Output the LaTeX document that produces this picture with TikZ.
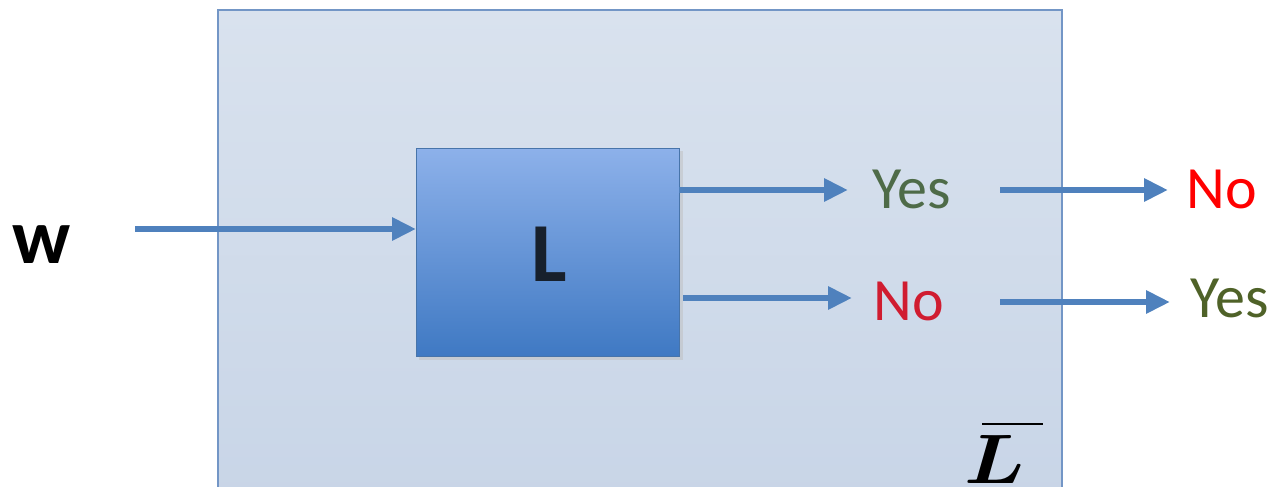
\documentclass[tikz,border=0pt]{standalone}
\usepackage{bm}
\usepackage{fontspec}
\setmainfont{Carlito}
\usetikzlibrary{arrows.meta}
\definecolor{arrowblue}{HTML}{4F81BD}
\definecolor{outerfillT}{HTML}{D9E2EE}
\definecolor{outerfillB}{HTML}{C8D5E7}
\definecolor{outerline}{HTML}{7396C6}
\definecolor{boxT}{HTML}{8DB1EA}
\definecolor{boxB}{HTML}{3F79C3}
\definecolor{lettercol}{HTML}{17202C}
\definecolor{yesin}{HTML}{4E6B48}
\definecolor{noin}{HTML}{D01C30}
\definecolor{yesout}{HTML}{4F6228}
\definecolor{noout}{HTML}{FF0000}
\tikzset{
  flow/.style={draw=arrowblue, line width=6pt,
    -{Triangle[length=24pt,width=22pt]}},
  answer/.style={font=\fontsize{60}{60}\selectfont, inner sep=0pt, anchor=base},
}
\begin{document}
\begin{tikzpicture}[x=1pt,y=-1pt]
  \useasboundingbox (0,0) rectangle (1278,487);
  % outer machine for the complement
  \shade[top color=outerfillT, bottom color=outerfillB, draw=outerline, line width=1.5pt]
    (218,10) rectangle (1062,500);
  % inner decider box with a soft shadow
  \fill[black!25, opacity=0.5] (419,151) rectangle (683,360);
  \shade[top color=boxT, bottom color=boxB] (416,148) rectangle (679,356);
  \draw[arrowblue!90!black, line width=1pt] (416,148) rectangle (679,356);
  \node[font=\fontsize{84}{84}\bfseries\selectfont, text=lettercol, anchor=base] (L) at (549,281) {L};
  \coordinate (Lin) at (416,229);
  \coordinate (Lyes) at (679,190);
  \coordinate (Lno) at (683,298);

  \node[font=\fontsize{78}{78}\selectfont\bfseries, anchor=base] (w) at (42,263) {w};
  \coordinate (win) at (135,229);

  \node[answer, text=yesin] (yes1) at (912,208) {Yes};
  \node[answer, text=noin] (no1) at (909,320) {No};
  \node[answer, text=noout] (no2) at (1222,208) {No};
  \node[answer, text=yesout] (yes2) at (1230,317) {Yes};

  \coordinate (yes1in) at (848,190);
  \coordinate (no1in) at (852,298);
  \coordinate (yes1out) at (1000,190);
  \coordinate (no1out) at (1000,302);
  \coordinate (no2in) at (1168,190);
  \coordinate (yes2in) at (1170,302);

  % complement label: slanted L with a bar over it
  \node[xscale=8.0, yscale=7.0, anchor=base west, inner sep=0pt] (Lbar) at (963,483) {$\bm{L}$};
  \draw[line width=2.8pt] (982,424) -- (1043,424);

  \draw[flow] (win) -- (Lin);
  \draw[flow] (Lyes) -- (yes1in);
  \draw[flow] (Lno) -- (no1in);
  \draw[flow] (yes1out) -- (no2in);
  \draw[flow] (no1out) -- (yes2in);
\end{tikzpicture}
\end{document}
